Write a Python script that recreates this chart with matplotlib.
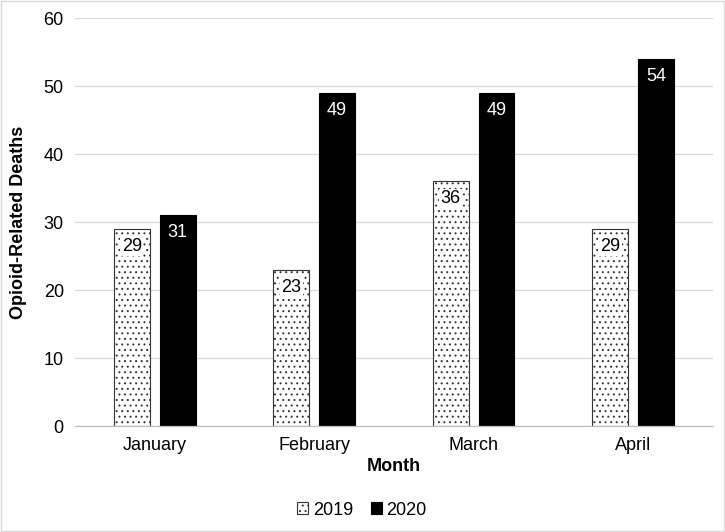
import numpy as np
import matplotlib.pyplot as plt
from matplotlib.patches import Rectangle

plt.rcParams['font.family'] = ['Liberation Sans', 'DejaVu Sans']
plt.rcParams['hatch.color'] = 'black'
plt.rcParams['hatch.linewidth'] = 0.7

# data
months = ['January', 'February', 'March', 'April']
deaths_2019 = [29, 23, 36, 29]
deaths_2020 = [31, 49, 49, 54]

fig = plt.figure(figsize=(7.25, 5.32), dpi=100)
ax = fig.add_axes([0.1034, 0.199, 0.8796, 0.767])

x = np.arange(len(months))
w = 0.225
b1 = ax.bar(x - 0.144, deaths_2019, w, color='white', edgecolor='#333333',
            linewidth=0.8, hatch='...', label='2019', zorder=2)
b2 = ax.bar(x + 0.144, deaths_2020, w, color='black', edgecolor='black',
            linewidth=0.8, label='2020', zorder=2)

# value labels inside the top of each bar
for rect, v in zip(b1, deaths_2019):
    ax.text(rect.get_x() + rect.get_width() / 2, v - 1.3, str(v),
            ha='center', va='top', fontsize=13, color='black', zorder=3,
            bbox=dict(facecolor='white', edgecolor='none', pad=1.0))
for rect, v in zip(b2, deaths_2020):
    ax.text(rect.get_x() + rect.get_width() / 2, v - 1.3, str(v),
            ha='center', va='top', fontsize=13, color='white', zorder=3)

ax.set_xlim(-0.5, 3.5)
ax.set_ylim(0, 60)
ax.set_yticks(range(0, 61, 10))
ax.set_xticks(x)
ax.set_xticklabels(months)
ax.tick_params(axis='both', length=0, labelsize=13, pad=8)
ax.yaxis.grid(True, color='#d9d9d9', linewidth=0.9)
ax.set_axisbelow(True)
for s in ['top', 'right', 'left']:
    ax.spines[s].set_visible(False)
ax.spines['bottom'].set_color('#bfbfbf')
ax.spines['bottom'].set_linewidth(0.9)

ax.set_xlabel('Month', fontsize=13, fontweight='bold', labelpad=3)
ax.set_ylabel('Opioid-Related Deaths', fontsize=13, fontweight='bold', labelpad=12)

ax.legend(loc='upper center', bbox_to_anchor=(0.45, -0.145), ncol=2, frameon=False,
          fontsize=13, handlelength=0.6, handleheight=0.6, handletextpad=0.25,
          columnspacing=1.0)

# light figure border
fig.patches.append(Rectangle((0.002, 0.002), 0.996, 0.996, transform=fig.transFigure,
                             fill=False, edgecolor='#d9d9d9', linewidth=1))

fig.savefig('out.png', dpi=100)
